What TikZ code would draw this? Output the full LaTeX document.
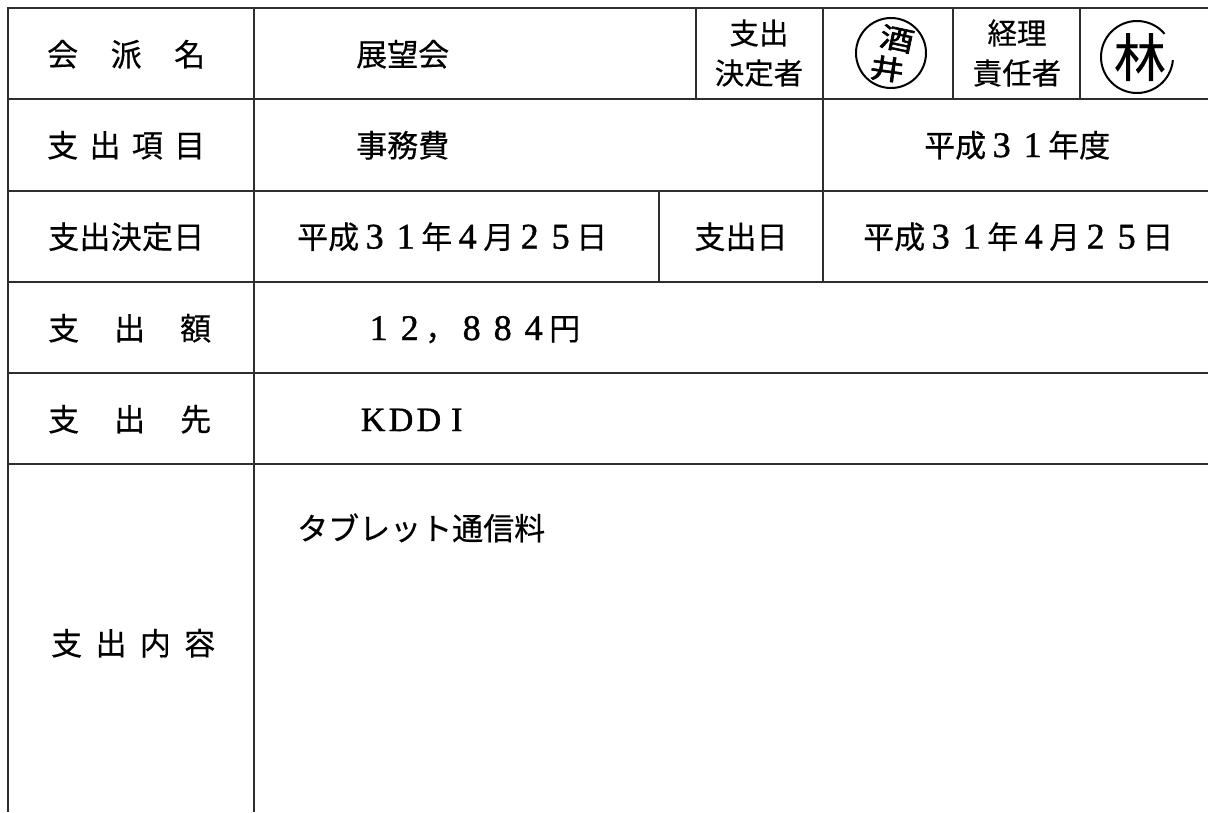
\documentclass[tikz,border=0pt]{standalone}
\usepackage{fontspec}
\setmainfont{Liberation Serif}
\newfontfamily\jp[FakeBold=0.4]{Noto Sans CJK JP}
\newfontfamily\jpbold[FakeBold=2]{Noto Sans CJK JP}
\newfontfamily\dgfont[FakeBold=1.2]{Liberation Serif}
\newcommand\dg[1]{\makebox[1em]{\fontsize{36}{36}\dgfont #1}}
\newcommand\lt[1]{\makebox[0.9em]{\fontsize{34}{34}\dgfont #1}}
\begin{document}
\begin{tikzpicture}[x=1pt,y=-1pt,
  gridline/.style={line width=2pt, draw=black!82},
  txt/.style={anchor=base west, inner sep=0pt, font=\jp\fontsize{31}{31}\selectfont},
  ctxt/.style={anchor=base, inner sep=0pt, font=\jp\fontsize{31}{31}\selectfont},
  two/.style={anchor=center, inner sep=0pt, align=center, font=\jp\fontsize{29.5}{40}\selectfont},
  seal/.style={line width=2pt, draw=black},
]
\useasboundingbox (0,0) rectangle (1208,812);
\fill[white] (0,0) rectangle (1208,812);

% table rules
\foreach \yy in {8,99,190.5,282,373,464}
  \draw[gridline] (7.5,\yy) -- (1208,\yy);
\draw[gridline] (7.5,7) -- (7.5,812);
\draw[gridline] (253.5,8) -- (253.5,812);
\draw[gridline] (696,8) -- (696,99);
\draw[gridline] (823,8) -- (823,282);
\draw[gridline] (953,8) -- (953,99);
\draw[gridline] (1080,8) -- (1080,99);
\draw[gridline] (659,190.5) -- (659,282);

% labels (left column)
\node[txt] (l1) at (47,66) {\hbox to 158pt{会\hfill 派\hfill 名}};
\node[txt] (l2) at (47,157) {\hbox to 158pt{支\hfill 出\hfill 項\hfill 目}};
\node[txt] (l3) at (48,248.5) {\hbox to 156pt{支\hfill 出\hfill 決\hfill 定\hfill 日}};
\node[txt] (l4) at (48,340) {\hbox to 163pt{支\hfill 出\hfill 額}};
\node[txt] (l5) at (48,431) {\hbox to 163pt{支\hfill 出\hfill 先}};
\node[txt] (l6) at (51,655) {\hbox to 164pt{支\hfill 出\hfill 内\hfill 容}};

% row 1
\node[txt] (v1) at (356,66) {展望会};
\node[two] (h1) at (759,53) {支出\\決定者};
\node[two] (h2) at (1017,53) {経理\\責任者};
\draw[seal] (891,53) circle[radius=35];
\node[inner sep=0pt, rotate=-12, yscale=0.8, font=\jpbold\fontsize{34}{34}\selectfont] (s1) at (897,39) {酒};
\node[inner sep=0pt, rotate=-8, yscale=0.8, font=\jpbold\fontsize{34}{34}\selectfont] (s2) at (887,69) {井};
\draw[seal] (1137,57) ++(-40:36) arc[start angle=-40, end angle=-355, radius=36];
\node[inner sep=0pt, font=\jp\fontsize{52}{52}\selectfont] (s3) at (1140,57) {林};

% row 2
\node[txt] (v2) at (356,157) {事務費};
\node[txt] (v3) at (924,157) {平成\dg{3}\dg{1}年度};

% row 3
\node[txt] (v4) at (297,248.5) {平成\dg{3}\dg{1}年\dg{4}月\dg{2}\dg{5}日};
\node[ctxt] (v5) at (741,248.5) {支出日};
\node[txt] (v6) at (863,248.5) {平成\dg{3}\dg{1}年\dg{4}月\dg{2}\dg{5}日};

% row 4
\node[txt] (v7) at (363,340) {\dg{1}\dg{2}，\dg{8}\dg{8}\dg{4}円};

% row 5
\node[txt] (v8) at (359,431) {\lt{K}\lt{D}\lt{D}\lt{I}};

% row 6
\node[txt] (v9) at (297,540) {タブレット通信料};
\end{tikzpicture}
\end{document}
